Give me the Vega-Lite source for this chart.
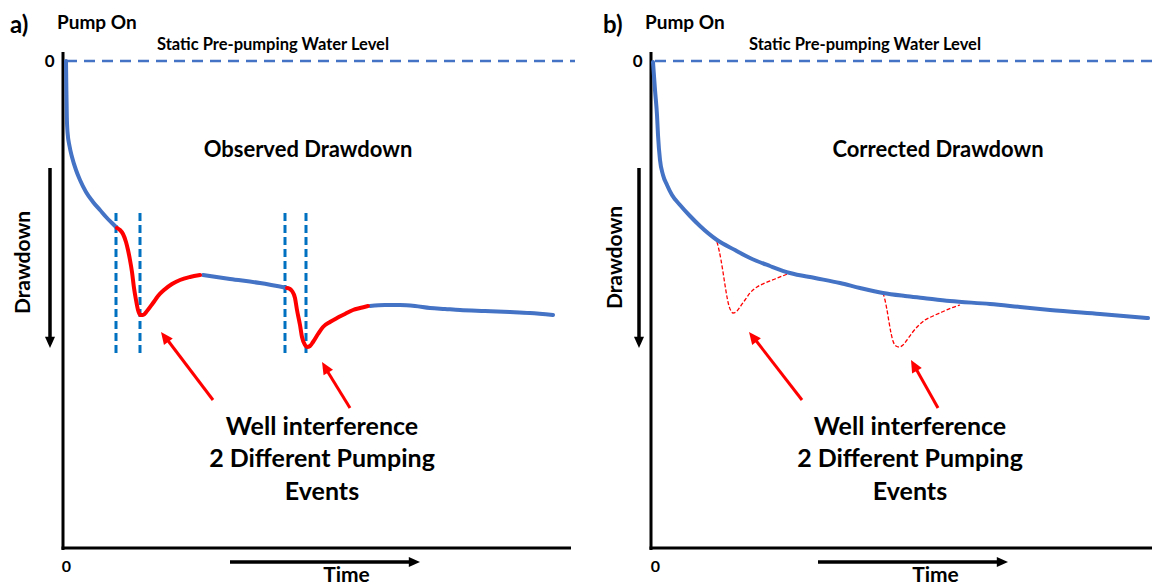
{
"$schema": "https://vega.github.io/schema/vega-lite/v6.json",
"padding": 0,
"spacing": 0,
"bounds": "flush",
"config": {"view": {"stroke": null}, "font": "Lato", "text": {"font": "Lato", "fontWeight": "bold", "color": "black"}},
"datasets": {
"curves": [
{"p":"a","seg":"a1","kind":"pumped","t":3,"d":0},{"p":"a","seg":"a1","kind":"pumped","t":3.4,"d":30},{"p":"a","seg":"a1","kind":"pumped","t":3.8,"d":55},{"p":"a","seg":"a1","kind":"pumped","t":4.5,"d":71},{"p":"a","seg":"a1","kind":"pumped","t":6.5,"d":85},{"p":"a","seg":"a1","kind":"pumped","t":9,"d":96},{"p":"a","seg":"a1","kind":"pumped","t":13,"d":109},{"p":"a","seg":"a1","kind":"pumped","t":17,"d":119},{"p":"a","seg":"a1","kind":"pumped","t":23,"d":131},{"p":"a","seg":"a1","kind":"pumped","t":30,"d":141},{"p":"a","seg":"a1","kind":"pumped","t":37,"d":149},{"p":"a","seg":"a1","kind":"pumped","t":44,"d":157},{"p":"a","seg":"a1","kind":"pumped","t":49,"d":162},{"p":"a","seg":"a1","kind":"pumped","t":54,"d":167},
{"p":"a","seg":"a2","kind":"interference","t":54,"d":167},{"p":"a","seg":"a2","kind":"interference","t":57,"d":169},{"p":"a","seg":"a2","kind":"interference","t":60,"d":173},{"p":"a","seg":"a2","kind":"interference","t":63,"d":181},{"p":"a","seg":"a2","kind":"interference","t":65,"d":189},{"p":"a","seg":"a2","kind":"interference","t":67,"d":199},{"p":"a","seg":"a2","kind":"interference","t":69,"d":211},{"p":"a","seg":"a2","kind":"interference","t":71,"d":227},{"p":"a","seg":"a2","kind":"interference","t":73,"d":239},{"p":"a","seg":"a2","kind":"interference","t":75,"d":249},{"p":"a","seg":"a2","kind":"interference","t":77,"d":254},{"p":"a","seg":"a2","kind":"interference","t":80,"d":254},{"p":"a","seg":"a2","kind":"interference","t":84,"d":250},{"p":"a","seg":"a2","kind":"interference","t":90,"d":242},{"p":"a","seg":"a2","kind":"interference","t":95,"d":235},{"p":"a","seg":"a2","kind":"interference","t":101,"d":229},{"p":"a","seg":"a2","kind":"interference","t":109,"d":223},{"p":"a","seg":"a2","kind":"interference","t":117,"d":219},{"p":"a","seg":"a2","kind":"interference","t":127,"d":216},{"p":"a","seg":"a2","kind":"interference","t":137,"d":214},
{"p":"a","seg":"a3","kind":"pumped","t":140,"d":214},{"p":"a","seg":"a3","kind":"pumped","t":167,"d":218},{"p":"a","seg":"a3","kind":"pumped","t":197,"d":222},{"p":"a","seg":"a3","kind":"pumped","t":224,"d":227},
{"p":"a","seg":"a4","kind":"interference","t":224,"d":227},{"p":"a","seg":"a4","kind":"interference","t":227,"d":228},{"p":"a","seg":"a4","kind":"interference","t":229,"d":230},{"p":"a","seg":"a4","kind":"interference","t":232,"d":237},{"p":"a","seg":"a4","kind":"interference","t":234,"d":249},{"p":"a","seg":"a4","kind":"interference","t":237,"d":264},{"p":"a","seg":"a4","kind":"interference","t":239,"d":276},{"p":"a","seg":"a4","kind":"interference","t":242,"d":284},{"p":"a","seg":"a4","kind":"interference","t":244,"d":286},{"p":"a","seg":"a4","kind":"interference","t":247,"d":285},{"p":"a","seg":"a4","kind":"interference","t":250,"d":281},{"p":"a","seg":"a4","kind":"interference","t":255,"d":273},{"p":"a","seg":"a4","kind":"interference","t":260,"d":266},{"p":"a","seg":"a4","kind":"interference","t":267,"d":261},{"p":"a","seg":"a4","kind":"interference","t":274,"d":257},{"p":"a","seg":"a4","kind":"interference","t":282,"d":253},{"p":"a","seg":"a4","kind":"interference","t":290,"d":249},{"p":"a","seg":"a4","kind":"interference","t":297,"d":247},{"p":"a","seg":"a4","kind":"interference","t":305,"d":245},
{"p":"a","seg":"a5","kind":"pumped","t":307,"d":245},{"p":"a","seg":"a5","kind":"pumped","t":322,"d":244},{"p":"a","seg":"a5","kind":"pumped","t":337,"d":244},{"p":"a","seg":"a5","kind":"pumped","t":352,"d":245},{"p":"a","seg":"a5","kind":"pumped","t":367,"d":247},{"p":"a","seg":"a5","kind":"pumped","t":382,"d":248},{"p":"a","seg":"a5","kind":"pumped","t":397,"d":249},{"p":"a","seg":"a5","kind":"pumped","t":422,"d":250},{"p":"a","seg":"a5","kind":"pumped","t":447,"d":251},{"p":"a","seg":"a5","kind":"pumped","t":467,"d":252},{"p":"a","seg":"a5","kind":"pumped","t":490,"d":254},
{"p":"b","seg":"b1","kind":"pumped","t":2,"d":1},{"p":"b","seg":"b1","kind":"pumped","t":4,"d":29},{"p":"b","seg":"b1","kind":"pumped","t":6,"d":54},{"p":"b","seg":"b1","kind":"pumped","t":7,"d":74},{"p":"b","seg":"b1","kind":"pumped","t":9,"d":99},{"p":"b","seg":"b1","kind":"pumped","t":12,"d":114},{"p":"b","seg":"b1","kind":"pumped","t":16,"d":124},{"p":"b","seg":"b1","kind":"pumped","t":21,"d":134},{"p":"b","seg":"b1","kind":"pumped","t":29,"d":144},{"p":"b","seg":"b1","kind":"pumped","t":39,"d":155},{"p":"b","seg":"b1","kind":"pumped","t":49,"d":165},{"p":"b","seg":"b1","kind":"pumped","t":66,"d":179},{"p":"b","seg":"b1","kind":"pumped","t":84,"d":189},{"p":"b","seg":"b1","kind":"pumped","t":99,"d":197},{"p":"b","seg":"b1","kind":"pumped","t":119,"d":205},{"p":"b","seg":"b1","kind":"pumped","t":139,"d":212},{"p":"b","seg":"b1","kind":"pumped","t":164,"d":217},{"p":"b","seg":"b1","kind":"pumped","t":189,"d":222},{"p":"b","seg":"b1","kind":"pumped","t":209,"d":227},{"p":"b","seg":"b1","kind":"pumped","t":232,"d":232},{"p":"b","seg":"b1","kind":"pumped","t":254,"d":235},{"p":"b","seg":"b1","kind":"pumped","t":272,"d":237},{"p":"b","seg":"b1","kind":"pumped","t":299,"d":240},{"p":"b","seg":"b1","kind":"pumped","t":339,"d":243},{"p":"b","seg":"b1","kind":"pumped","t":369,"d":246},{"p":"b","seg":"b1","kind":"pumped","t":399,"d":249},{"p":"b","seg":"b1","kind":"pumped","t":449,"d":253},{"p":"b","seg":"b1","kind":"pumped","t":497,"d":257},
{"p":"b","seg":"b2","kind":"interference","t":66,"d":181},{"p":"b","seg":"b2","kind":"interference","t":68,"d":189},{"p":"b","seg":"b2","kind":"interference","t":70,"d":199},{"p":"b","seg":"b2","kind":"interference","t":72,"d":211},{"p":"b","seg":"b2","kind":"interference","t":74,"d":224},{"p":"b","seg":"b2","kind":"interference","t":76,"d":236},{"p":"b","seg":"b2","kind":"interference","t":78,"d":245},{"p":"b","seg":"b2","kind":"interference","t":80,"d":250},{"p":"b","seg":"b2","kind":"interference","t":82,"d":252},{"p":"b","seg":"b2","kind":"interference","t":85,"d":251},{"p":"b","seg":"b2","kind":"interference","t":89,"d":246},{"p":"b","seg":"b2","kind":"interference","t":94,"d":239},{"p":"b","seg":"b2","kind":"interference","t":99,"d":232},{"p":"b","seg":"b2","kind":"interference","t":106,"d":226},{"p":"b","seg":"b2","kind":"interference","t":114,"d":222},{"p":"b","seg":"b2","kind":"interference","t":124,"d":218},{"p":"b","seg":"b2","kind":"interference","t":139,"d":212},
{"p":"b","seg":"b3","kind":"interference","t":232,"d":232},{"p":"b","seg":"b3","kind":"interference","t":234,"d":239},{"p":"b","seg":"b3","kind":"interference","t":236,"d":249},{"p":"b","seg":"b3","kind":"interference","t":238,"d":261},{"p":"b","seg":"b3","kind":"interference","t":240,"d":272},{"p":"b","seg":"b3","kind":"interference","t":242,"d":280},{"p":"b","seg":"b3","kind":"interference","t":245,"d":285},{"p":"b","seg":"b3","kind":"interference","t":248,"d":286},{"p":"b","seg":"b3","kind":"interference","t":252,"d":284},{"p":"b","seg":"b3","kind":"interference","t":256,"d":279},{"p":"b","seg":"b3","kind":"interference","t":261,"d":272},{"p":"b","seg":"b3","kind":"interference","t":267,"d":265},{"p":"b","seg":"b3","kind":"interference","t":274,"d":259},{"p":"b","seg":"b3","kind":"interference","t":282,"d":255},{"p":"b","seg":"b3","kind":"interference","t":291,"d":251},{"p":"b","seg":"b3","kind":"interference","t":300,"d":247},{"p":"b","seg":"b3","kind":"interference","t":309,"d":244}
],
"frame": [
{"p":"a","t":0,"d":-9,"t2":0,"d2":489},{"p":"a","t":-1.5,"d":487,"t2":508,"d2":487},
{"p":"b","t":0,"d":-9,"t2":0,"d2":489},{"p":"b","t":-1.5,"d":487,"t2":505,"d2":487}
],
"static": [
{"p":"a","t":3,"d":0,"t2":512,"d2":0},
{"p":"b","t":4,"d":0,"t2":501,"d2":0}
],
"guides": [
{"p":"a","t":53,"d":152,"t2":53,"d2":292},{"p":"a","t":77,"d":152,"t2":77,"d2":292},
{"p":"a","t":222,"d":152,"t2":222,"d2":292},{"p":"a","t":243,"d":152,"t2":243,"d2":292}
],
"arrows": [
{"p":"a","kind":"red","t":150,"d":339,"t2":103,"d2":277},{"p":"a","kind":"red","t":287,"d":347,"t2":263,"d2":308},
{"p":"a","kind":"black","t":-13,"d":107,"t2":-13,"d2":279},{"p":"a","kind":"black","t":167,"d":501,"t2":349,"d2":501},
{"p":"b","kind":"red","t":151,"d":339,"t2":103,"d2":277},{"p":"b","kind":"red","t":287,"d":347,"t2":264,"d2":306},
{"p":"b","kind":"black","t":-12,"d":107,"t2":-12,"d2":279},{"p":"b","kind":"black","t":167,"d":501,"t2":349,"d2":501}
],
"heads": [
{"p":"a","kind":"red","t":98,"d":271,"dir":323},{"p":"a","kind":"red","t":259,"d":301,"dir":329},
{"p":"a","kind":"black","t":-13,"d":287,"dir":180},{"p":"a","kind":"black","t":357,"d":501,"dir":90},
{"p":"b","kind":"red","t":98,"d":271,"dir":322},{"p":"b","kind":"red","t":260,"d":299,"dir":331},
{"p":"b","kind":"black","t":-12,"d":287,"dir":180},{"p":"b","kind":"black","t":357,"d":501,"dir":90}
],
"labels": [
{"p":"a","kind":"panel","text":"a)","t":-53,"d":-35},
{"p":"a","kind":"pump","text":"Pump On","t":-6,"d":-38},
{"p":"a","kind":"static","text":"Static Pre-pumping Water Level","t":210,"d":-16},
{"p":"a","kind":"title","text":"Observed Drawdown","t":245,"d":89},
{"p":"a","kind":"note","text":"Well interference","t":259,"d":366},
{"p":"a","kind":"note","text":"2 Different Pumping","t":259,"d":398},
{"p":"a","kind":"note","text":"Events","t":259,"d":431},
{"p":"b","kind":"panel","text":"b)","t":-48,"d":-35},
{"p":"b","kind":"pump","text":"Pump On","t":-6,"d":-38},
{"p":"b","kind":"static","text":"Static Pre-pumping Water Level","t":214,"d":-16},
{"p":"b","kind":"title","text":"Corrected Drawdown","t":287,"d":89},
{"p":"b","kind":"note","text":"Well interference","t":259,"d":366},
{"p":"b","kind":"note","text":"2 Different Pumping","t":259,"d":398},
{"p":"b","kind":"note","text":"Events","t":259,"d":431}
]
},
"hconcat": [
{
"width": 576, "height": 586,
"encoding": {
"x": {"field":"t","type":"quantitative","scale":{"domain":[-63,513],"nice":false,"zero":false},
"axis":{"orient":"bottom","offset":-38,"values":[0],"domain":false,"ticks":false,"tickSize":0,"grid":false,"labelFont":"Lato","labelFontSize":16,"labelFontWeight":"bold","labelColor":"black","labelPadding":10,"labelOffset":3,"title":"Time","titleFont":"Lato","titleFontSize":21,"titleFontWeight":"bold","titleColor":"black","titleX":346,"titleY":27,"titleBaseline":"middle","titleAlign":"center"}},
"y": {"field":"d","type":"quantitative","scale":{"domain":[-61,525],"reverse":true,"nice":false,"zero":false},
"axis":{"orient":"left","offset":-63,"values":[0],"domain":false,"ticks":false,"tickSize":0,"grid":false,"labelFont":"Lato","labelFontSize":17,"labelFontWeight":"bold","labelColor":"black","labelPadding":9,"labelBaseline":"middle","title":"Drawdown","titleFont":"Lato","titleAngle":270,"titleX":-40,"titleY":262,"titleFontSize":21,"titleFontWeight":"bold","titleColor":"black","titleBaseline":"middle","titleAlign":"center"}}
},
"layer": [
{"data":{"name":"frame"},"transform":[{"filter":"datum.p=='a'"}],"mark":{"type":"rule","color":"black","strokeWidth":3,"strokeCap":"butt"},"encoding":{"x2":{"field":"t2"},"y2":{"field":"d2"}}},
{"data":{"name":"static"},"transform":[{"filter":"datum.p=='a'"}],"mark":{"type":"rule","color":"#4472C4","strokeWidth":2.5,"strokeDash":[11,7]},"encoding":{"x2":{"field":"t2"},"y2":{"field":"d2"}}},
{"data":{"name":"guides"},"transform":[{"filter":"datum.p=='a'"}],"mark":{"type":"rule","color":"#0070C0","strokeWidth":3,"strokeDash":[8,4]},"encoding":{"x2":{"field":"t2"},"y2":{"field":"d2"}}},
{"data":{"name":"curves"},"transform":[{"filter":"datum.p=='a' && datum.kind=='pumped'"}],"mark":{"type":"line","color":"#4472C4","strokeWidth":4,"interpolate":"monotone","strokeCap":"round"},"encoding":{"detail":{"field":"seg"}}},
{"data":{"name":"curves"},"transform":[{"filter":"datum.p=='a' && datum.kind=='interference'"}],"mark":{"type":"line","color":"#FF0000","strokeWidth":4,"interpolate":"monotone","strokeCap":"round"},"encoding":{"detail":{"field":"seg"}}},
{"data":{"name":"arrows"},"transform":[{"filter":"datum.p=='a' && datum.kind=='red'"}],"mark":{"type":"rule","color":"#FF0000","strokeWidth":3,"strokeCap":"butt"},"encoding":{"x2":{"field":"t2"},"y2":{"field":"d2"}}},
{"data":{"name":"arrows"},"transform":[{"filter":"datum.p=='a' && datum.kind=='black'"}],"mark":{"type":"rule","color":"black","strokeWidth":3.5,"strokeCap":"butt"},"encoding":{"x2":{"field":"t2"},"y2":{"field":"d2"}}},
{"data":{"name":"heads"},"transform":[{"filter":"datum.p=='a' && datum.kind=='red'"}],"mark":{"type":"point","shape":"M0,0L-0.45,1L0.45,1Z","filled":true,"color":"#FF0000","opacity":1,"size":600,"strokeWidth":0},"encoding":{"angle":{"field":"dir","type":"quantitative","scale":null}}},
{"data":{"name":"heads"},"transform":[{"filter":"datum.p=='a' && datum.kind=='black'"}],"mark":{"type":"point","shape":"M0,0L-0.45,1L0.45,1Z","filled":true,"color":"black","opacity":1,"size":500,"strokeWidth":0},"encoding":{"angle":{"field":"dir","type":"quantitative","scale":null}}},
{"data":{"name":"labels"},"transform":[{"filter":"datum.p=='a' && datum.kind=='panel'"}],"mark":{"type":"text","fontSize":24,"align":"left","baseline":"middle"},"encoding":{"text":{"field":"text"}}},
{"data":{"name":"labels"},"transform":[{"filter":"datum.p=='a' && datum.kind=='pump'"}],"mark":{"type":"text","fontSize":19,"align":"left","baseline":"middle"},"encoding":{"text":{"field":"text"}}},
{"data":{"name":"labels"},"transform":[{"filter":"datum.p=='a' && datum.kind=='static'"}],"mark":{"type":"text","fontSize":16.5,"align":"center","baseline":"middle"},"encoding":{"text":{"field":"text"}}},
{"data":{"name":"labels"},"transform":[{"filter":"datum.p=='a' && datum.kind=='title'"}],"mark":{"type":"text","fontSize":22,"align":"center","baseline":"middle"},"encoding":{"text":{"field":"text"}}},
{"data":{"name":"labels"},"transform":[{"filter":"datum.p=='a' && datum.kind=='note'"}],"mark":{"type":"text","fontSize":25,"align":"center","baseline":"middle"},"encoding":{"text":{"field":"text"}}}
]
},
{
"width": 576, "height": 586,
"encoding": {
"x": {"field":"t","type":"quantitative","scale":{"domain":[-75,501],"nice":false,"zero":false},
"axis":{"orient":"bottom","offset":-38,"values":[0],"domain":false,"ticks":false,"tickSize":0,"grid":false,"labelFont":"Lato","labelFontSize":16,"labelFontWeight":"bold","labelColor":"black","labelPadding":10,"labelOffset":4,"title":"Time","titleFont":"Lato","titleFontSize":21,"titleFontWeight":"bold","titleColor":"black","titleX":359,"titleY":27,"titleBaseline":"middle","titleAlign":"center"}},
"y": {"field":"d","type":"quantitative","scale":{"domain":[-61,525],"reverse":true,"nice":false,"zero":false},
"axis":{"orient":"left","offset":-75,"values":[0],"domain":false,"ticks":false,"tickSize":0,"grid":false,"labelFont":"Lato","labelFontSize":17,"labelFontWeight":"bold","labelColor":"black","labelPadding":9,"labelBaseline":"middle","title":"Drawdown","titleFont":"Lato","titleAngle":270,"titleX":-36,"titleY":257,"titleFontSize":21,"titleFontWeight":"bold","titleColor":"black","titleBaseline":"middle","titleAlign":"center"}}
},
"layer": [
{"data":{"name":"frame"},"transform":[{"filter":"datum.p=='b'"}],"mark":{"type":"rule","color":"black","strokeWidth":3,"strokeCap":"butt"},"encoding":{"x2":{"field":"t2"},"y2":{"field":"d2"}}},
{"data":{"name":"static"},"transform":[{"filter":"datum.p=='b'"}],"mark":{"type":"rule","color":"#4472C4","strokeWidth":2.5,"strokeDash":[11,7]},"encoding":{"x2":{"field":"t2"},"y2":{"field":"d2"}}},
{"data":{"name":"curves"},"transform":[{"filter":"datum.p=='b' && datum.kind=='interference'"}],"mark":{"type":"line","color":"#FF0000","strokeWidth":1.3,"strokeDash":[4,2],"interpolate":"monotone"},"encoding":{"detail":{"field":"seg"}}},
{"data":{"name":"curves"},"transform":[{"filter":"datum.p=='b' && datum.kind=='pumped'"}],"mark":{"type":"line","color":"#4472C4","strokeWidth":4,"interpolate":"monotone","strokeCap":"round"},"encoding":{"detail":{"field":"seg"}}},
{"data":{"name":"arrows"},"transform":[{"filter":"datum.p=='b' && datum.kind=='red'"}],"mark":{"type":"rule","color":"#FF0000","strokeWidth":3,"strokeCap":"butt"},"encoding":{"x2":{"field":"t2"},"y2":{"field":"d2"}}},
{"data":{"name":"arrows"},"transform":[{"filter":"datum.p=='b' && datum.kind=='black'"}],"mark":{"type":"rule","color":"black","strokeWidth":3.5,"strokeCap":"butt"},"encoding":{"x2":{"field":"t2"},"y2":{"field":"d2"}}},
{"data":{"name":"heads"},"transform":[{"filter":"datum.p=='b' && datum.kind=='red'"}],"mark":{"type":"point","shape":"M0,0L-0.45,1L0.45,1Z","filled":true,"color":"#FF0000","opacity":1,"size":600,"strokeWidth":0},"encoding":{"angle":{"field":"dir","type":"quantitative","scale":null}}},
{"data":{"name":"heads"},"transform":[{"filter":"datum.p=='b' && datum.kind=='black'"}],"mark":{"type":"point","shape":"M0,0L-0.45,1L0.45,1Z","filled":true,"color":"black","opacity":1,"size":500,"strokeWidth":0},"encoding":{"angle":{"field":"dir","type":"quantitative","scale":null}}},
{"data":{"name":"labels"},"transform":[{"filter":"datum.p=='b' && datum.kind=='panel'"}],"mark":{"type":"text","fontSize":24,"align":"left","baseline":"middle"},"encoding":{"text":{"field":"text"}}},
{"data":{"name":"labels"},"transform":[{"filter":"datum.p=='b' && datum.kind=='pump'"}],"mark":{"type":"text","fontSize":19,"align":"left","baseline":"middle"},"encoding":{"text":{"field":"text"}}},
{"data":{"name":"labels"},"transform":[{"filter":"datum.p=='b' && datum.kind=='static'"}],"mark":{"type":"text","fontSize":16.5,"align":"center","baseline":"middle"},"encoding":{"text":{"field":"text"}}},
{"data":{"name":"labels"},"transform":[{"filter":"datum.p=='b' && datum.kind=='title'"}],"mark":{"type":"text","fontSize":22,"align":"center","baseline":"middle"},"encoding":{"text":{"field":"text"}}},
{"data":{"name":"labels"},"transform":[{"filter":"datum.p=='b' && datum.kind=='note'"}],"mark":{"type":"text","fontSize":25,"align":"center","baseline":"middle"},"encoding":{"text":{"field":"text"}}}
]
}
]
}
